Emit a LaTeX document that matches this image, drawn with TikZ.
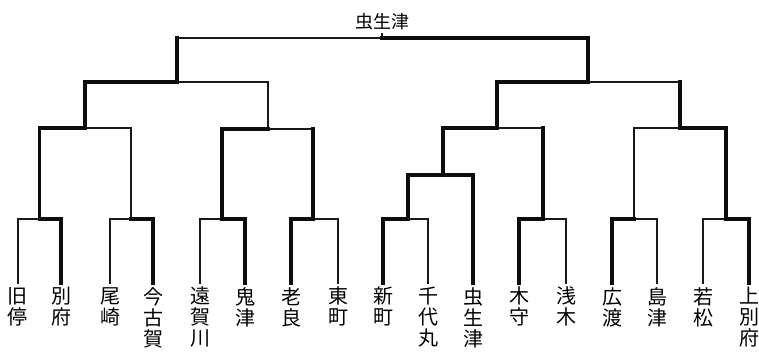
\documentclass[tikz,border=0pt]{standalone}
\usepackage{fontspec}
\newfontfamily\cjk{Noto Sans CJK JP}
\begin{document}
\begin{tikzpicture}[x=1pt,y=-1pt,
  lthin/.style={line width=1.8pt,line join=miter,line cap=rect,draw=black!90},
  lmed/.style={line width=2.4pt,line join=miter,line cap=rect,draw=black!90},
  lthick/.style={line width=3.2pt,line join=miter,line cap=rect,draw=black!95},
  team/.style={anchor=north,align=center,inner xsep=0pt,inner ysep=4pt,
    font=\cjk\fontsize{20}{21}\selectfont},
  ttl/.style={font=\cjk\fontsize{18}{20}\selectfont,inner sep=0pt}]
\useasboundingbox[fill=white] (0,0) rectangle (759,353);
% teams
\node[team] (t1) at (18,283) {旧\\停};
\node[team] (t2) at (61,283) {別\\府};
\node[team] (t3) at (110,283) {尾\\崎};
\node[team] (t4) at (153,283) {今\\古\\賀};
\node[team] (t5) at (200,283) {遠\\賀\\川};
\node[team] (t6) at (245,283) {鬼\\津};
\node[team] (t7) at (291,283) {老\\良};
\node[team] (t8) at (338,283) {東\\町};
\node[team] (t9) at (383,283) {新\\町};
\node[team] (t10) at (428,283) {千\\代\\丸};
\node[team] (t11) at (473,283) {虫\\生\\津};
\node[team] (t12) at (519,283) {木\\守};
\node[team] (t13) at (566,283) {浅\\木};
\node[team] (t14) at (612,283) {広\\渡};
\node[team] (t15) at (657,283) {島\\津};
\node[team] (t16) at (703,283) {若\\松};
\node[team] (t17) at (749,283) {上\\別\\府};
% junctions
\coordinate (m1) at (39.5,219);
\coordinate (m2) at (131,219);
\coordinate (m3) at (222,219);
\coordinate (m4) at (313,219);
\coordinate (m5) at (85,128);
\coordinate (m6) at (268,129);
\coordinate (m7) at (177,82);
\coordinate (top) at (382,38);
\coordinate (tick) at (382,34);
\coordinate (m9) at (408,219);
\coordinate (m10) at (443,175);
\coordinate (m11) at (543,219);
\coordinate (m12) at (497,128);
\coordinate (m13) at (634,219);
\coordinate (m14) at (726,219);
\coordinate (m15) at (680,128);
\coordinate (m16) at (588,82);
\node[ttl] (title) at (382,22) {虫生津};
% thin segments
\draw[lthin] (t1.north) |- (m1);
\draw[lthin] (t3.north) |- (m2);
\draw[lthin] (t5.north) |- (m3);
\draw[lthin] (t8.north) |- (m4);
\draw[lthin] (m4 |- m6) -- (m6);
\draw[lthin] (m7 |- top) -- (top) -- (tick);
\draw[lthin] (t10.north) |- (m9);
\draw[lthin] (t13.north) |- (m11);
\draw[lthin] (t15.north) |- (m13);
\draw[lthin] (t16.north) |- (m14);
% medium segments
\draw[lmed] (m2) |- (m5);
\draw[lmed] (m6) |- (m7);
\draw[lmed] (m11 |- m12) -- (m12);
\draw[lmed] (m13) |- (m15);
\draw[lmed] (m15 |- m16) -- (m16);
% thick segments
\draw[lthick] (t2.north) |- (m1) |- (m5) |- (m7) -- (m7 |- top);
\draw[lthick] (t4.north) |- (m2);
\draw[lthick] (t6.north) |- (m3) |- (m6);
\draw[lthick] (t7.north) |- (m4) -- (m4 |- m6);
\draw[lthick] (t9.north) |- (m9) |- (m10);
\draw[lthick] (t11.north) |- (m10) |- (m12) |- (m16) |- (top);
\draw[lthick] (t12.north) |- (m11) -- (m11 |- m12);
\draw[lthick] (t14.north) |- (m13);
\draw[lthick] (t17.north) |- (m14) |- (m15) -- (m15 |- m16);
\end{tikzpicture}
\end{document}
